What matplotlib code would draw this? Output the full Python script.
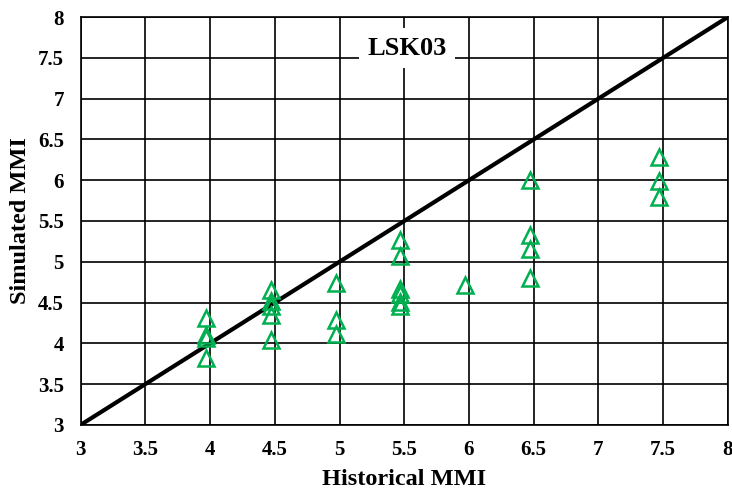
import numpy as np
import matplotlib.pyplot as plt

# historical vs simulated MMI
hist_mmi = [3.97, 3.97, 3.97, 3.97,
            4.47, 4.47, 4.47, 4.47, 4.47,
            4.97, 4.97, 4.97,
            5.47, 5.47, 5.47, 5.47, 5.47, 5.47,
            5.97,
            6.47, 6.47, 6.47, 6.47,
            7.47, 7.47, 7.47]
sim_mmi = [4.31, 4.10, 4.06, 3.82,
           4.65, 4.52, 4.46, 4.35, 4.04,
           4.74, 4.29, 4.12,
           5.27, 5.07, 4.67, 4.60, 4.51, 4.46,
           4.72,
           6.00, 5.33, 5.16, 4.80,
           6.28, 5.99, 5.80]
one_to_one = [3, 8]
ticks = [3, 3.5, 4, 4.5, 5, 5.5, 6, 6.5, 7, 7.5, 8]
tick_labels = ['3', '3.5', '4', '4.5', '5', '5.5', '6', '6.5', '7', '7.5', '8']

plt.rcParams['font.family'] = ['Liberation Serif', 'DejaVu Serif']
plt.rcParams['font.weight'] = 'bold'

fig = plt.figure(figsize=(7.32, 4.93), dpi=100)
ax = fig.add_axes([0.110, 0.138, 0.8845, 0.8275])

ax.plot(one_to_one, one_to_one, color='black', lw=3, zorder=3, solid_capstyle='butt')
ax.plot(hist_mmi, sim_mmi, linestyle='none', marker='^', markersize=12,
        markerfacecolor='none', markeredgecolor='#00B050', markeredgewidth=1.8, zorder=4)

ax.set_xlim(3, 8)
ax.set_ylim(3, 8)
ax.set_xticks(ticks)
ax.set_xticklabels(tick_labels, fontsize=15, fontweight='bold')
ax.set_yticks(ticks)
ax.set_yticklabels(tick_labels, fontsize=15, fontweight='bold')
ax.tick_params(axis='x', length=0, pad=11)
ax.tick_params(axis='y', length=0, pad=12)
ax.grid(True, color='black', lw=1.2)
ax.set_axisbelow(True)
for s in ax.spines.values():
    s.set_linewidth(1.2)

ax.set_xlabel('Historical MMI', fontsize=17.5, fontweight='bold', labelpad=6)
ax.set_ylabel('Simulated MMI', fontsize=17.5, fontweight='bold', labelpad=5)

ax.text(5.52, 7.62, 'LSK03', fontsize=19, fontweight='bold', ha='center', va='center',
        zorder=5, bbox=dict(facecolor='white', edgecolor='none', pad=6))

plt.savefig('out.png', dpi=100)
